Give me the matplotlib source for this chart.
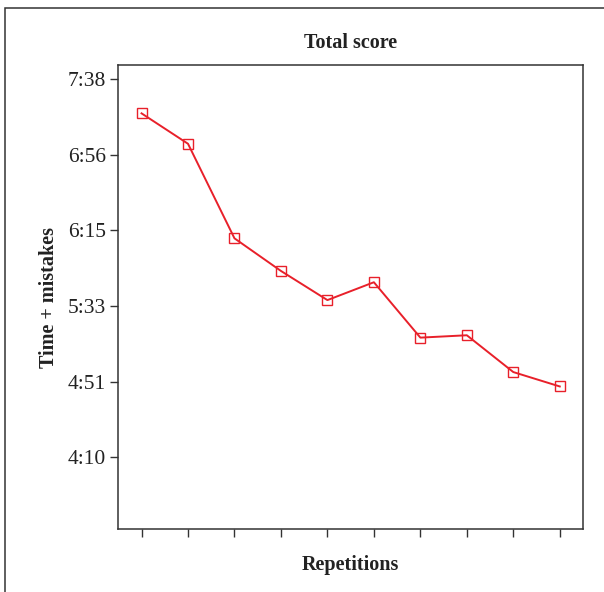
import matplotlib.pyplot as plt
from matplotlib.patches import Rectangle

# repetitions and total score (seconds)
reps = [1, 2, 3, 4, 5, 6, 7, 8, 9, 10]
score = [438.8, 422.1, 370.2, 352.3, 336.3, 346.1, 315.7, 317.0, 296.8, 288.9]
ytick_vals = [250, 291.5, 333, 374.5, 416, 457.5]
ytick_labels = ['4:10', '4:51', '5:33', '6:15', '6:56', '7:38']

plt.rcParams['font.family'] = ['Liberation Serif', 'DejaVu Serif']

fig = plt.figure(figsize=(6.04, 5.92), dpi=100)
W, H = 604, 592
ax = fig.add_axes([118.3 / W, 1 - 529.3 / H, (583 - 118.3) / W, (529.3 - 64.7) / H])

# outer frame (runs off the right and bottom edges)
fig.patches.append(Rectangle((5 / W, -0.05), 1.2, 1 - 8 / H + 0.05, transform=fig.transFigure,
                             fill=False, edgecolor='#333333', linewidth=1.1))

ax.plot(reps, score, color='#e8202a', linewidth=1.4, marker='s', markersize=7,
        markerfacecolor='none', markeredgecolor='#e8202a', markeredgewidth=1.0)

ax.set_xlim(0.5, 10.5)
ax.set_ylim(210.5, 465.5)
ax.set_xticks(reps)
ax.set_xticklabels([])
ax.set_yticks(ytick_vals)
ax.set_yticklabels(ytick_labels, fontsize=15.5, color='#222222')
ax.tick_params(axis='both', direction='out', length=6, width=1, color='#333333')
ax.tick_params(axis='y', pad=3)
for s in ax.spines.values():
    s.set_color('#333333')
    s.set_linewidth(1.1)

ax.set_title('Total score', fontsize=14.5, fontweight='bold', color='#222222', pad=12)
ax.set_xlabel('Repetitions', fontsize=14.5, fontweight='bold', color='#222222', labelpad=9)
ax.set_ylabel('Time + mistakes', fontsize=14.5, fontweight='bold', color='#222222', labelpad=6)

fig.savefig('out.png', dpi=100)
